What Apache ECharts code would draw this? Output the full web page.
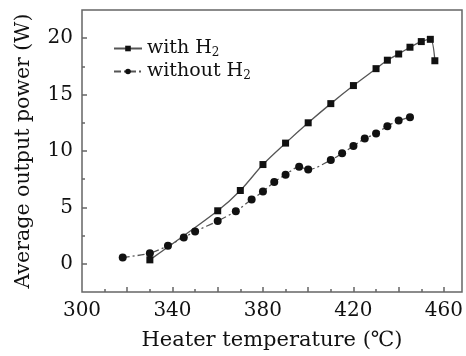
<!DOCTYPE html>
<html>
<head>
<meta charset="utf-8">
<script src="https://cdn.jsdelivr.net/npm/echarts@6/dist/echarts.min.js"></script>
<style>
  html, body { margin: 0; padding: 0; background: #fff; }
  #chart { width: 466px; height: 356px; }
</style>
</head>
<body>
<div id="chart"></div>
<script>
// data
const withH2 = [
  [330, 0.35], [360, 4.7], [370, 6.5], [380, 8.8], [390, 10.7], [400, 12.5],
  [410, 14.2], [420, 15.8], [430, 17.3], [435, 18.05], [440, 18.6],
  [445, 19.2], [450, 19.7], [454, 19.9], [456, 18.0]
]
const withoutH2 = [
  [318, 0.56], [330, 0.94], [338, 1.6], [345, 2.33], [350, 2.86], [360, 3.8],
  [368, 4.66], [375, 5.7], [380, 6.4], [385, 7.26], [390, 7.9], [396, 8.6],
  [400, 8.35], [410, 9.2], [415, 9.8], [420, 10.44], [425, 11.1], [430, 11.55],
  [435, 12.2], [440, 12.7], [445, 13.0]
]
const xLabels = [300, 340, 380, 420, 460]
const xMajorTicks = [320, 340, 360, 380, 400, 420, 440, 460]
const xMinorTicks = [310, 330, 350, 370, 390, 410, 430, 450]
const yLabels = [0, 5, 10, 15, 20]
const yMinorTicks = [2.5, 7.5, 12.5, 17.5]

const font = 'DejaVu Serif'
const axisColor = '#666'
const textColor = '#111'

const chart = echarts.init(document.getElementById('chart'))

function xAxisDef(ticks, len, showLabel) {
    return {
        type: 'value',
        min: 300,
        max: 468,
        position: 'bottom',
        axisLine: { show: false, onZero: false },
        splitLine: { show: false },
        axisTick: { show: true, inside: true, length: len, customValues: ticks, lineStyle: { color: axisColor, width: 1.5 } },
        axisLabel: { show: showLabel, customValues: xLabels, margin: 9, color: textColor, fontFamily: font, fontSize: 20 },
        name: showLabel ? 'Heater temperature (℃)' : '',
        nameLocation: 'middle',
        nameGap: 38,
        nameTextStyle: { color: textColor, fontFamily: font, fontSize: 21 }
    }
}

function yAxisDef(ticks, len, showLabel) {
    return {
        type: 'value',
        min: -2.5,
        max: 22.5,
        position: 'left',
        axisLine: { show: false, onZero: false },
        splitLine: { show: false },
        axisTick: { show: true, inside: true, length: len, customValues: ticks, lineStyle: { color: axisColor, width: 1.5 } },
        axisLabel: { show: showLabel, customValues: yLabels, margin: 9, color: textColor, fontFamily: font, fontSize: 20 },
        name: showLabel ? 'Average output power (W)' : '',
        nameLocation: 'middle',
        nameGap: 48,
        nameTextStyle: { color: textColor, fontFamily: font, fontSize: 20.5 }
    }
}

chart.setOption({
    animation: false,
    grid: {
        left: 82, right: 4, top: 10, bottom: 63,
        show: true,
        borderColor: axisColor,
        borderWidth: 1.5,
        backgroundColor: 'transparent'
    },
    legend: {
        orient: 'vertical',
        left: 108,
        top: 34,
        itemWidth: 28,
        itemHeight: 7,
        itemGap: 3,
        data: ['with H2', 'without H2'],
        formatter: function (name) {
            return name === 'with H2' ? '{t|with H}{s|2}' : '{t|without H}{s|2}'
        },
        textStyle: {
            rich: {
                t: { fontFamily: font, fontSize: 19, color: textColor },
                s: { fontFamily: font, fontSize: 12, color: textColor, verticalAlign: 'bottom', padding: [9, 0, 0, 0] }
            }
        }
    },
    xAxis: [xAxisDef(xMajorTicks, 5, true), xAxisDef(xMinorTicks, 3, false)],
    yAxis: [yAxisDef(yLabels, 5, true), yAxisDef(yMinorTicks, 3, false)],
    series: [
        {
            name: 'with H2',
            type: 'line',
            data: withH2,
            smooth: 0.3,
            symbol: 'rect',
            symbolSize: 7,
            itemStyle: { color: '#111' },
            lineStyle: { color: '#555', width: 1.3 }
        },
        {
            name: 'without H2',
            type: 'line',
            data: withoutH2,
            smooth: 0.3,
            symbol: 'circle',
            symbolSize: 8,
            itemStyle: { color: '#111' },
            lineStyle: { color: '#555', width: 1.3, type: [7, 3, 2, 3] }
        }
    ]
})
</script>
</body>
</html>
